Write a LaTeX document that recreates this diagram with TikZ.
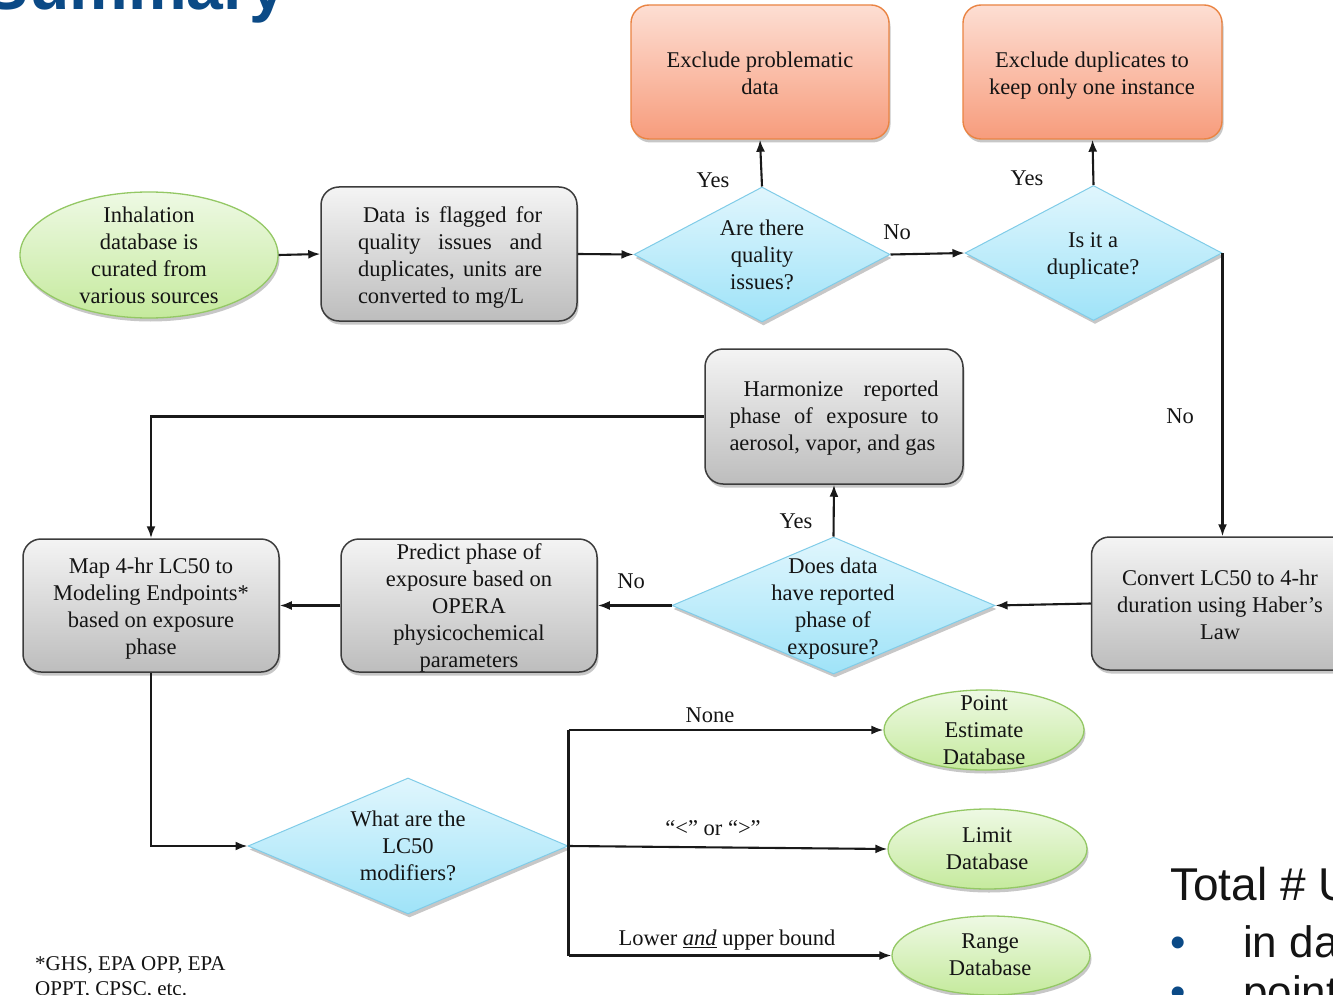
\documentclass[tikz,border=0pt]{standalone}
\usepackage{fontspec}
\setmainfont{Liberation Serif}
\newfontfamily\sansfont{Liberation Sans}
\usetikzlibrary{shapes.geometric,arrows.meta,shadows}

\definecolor{gtop}{HTML}{F4F4F4}
\definecolor{gbot}{HTML}{BDBDBD}
\definecolor{gborder}{HTML}{3C3C3C}
\definecolor{otop}{HTML}{FDDED3}
\definecolor{obot}{HTML}{F79C7C}
\definecolor{oborder}{HTML}{EA8443}
\definecolor{ltop}{HTML}{EEF9E4}
\definecolor{lbot}{HTML}{C5EA9D}
\definecolor{lborder}{HTML}{94C865}
\definecolor{ctop}{HTML}{E0F6FD}
\definecolor{cbot}{HTML}{9FE3F8}
\definecolor{cborder}{HTML}{80CCE8}
\definecolor{titleblue}{HTML}{0B4A86}
\definecolor{ink}{HTML}{141414}

\tikzset{
  shade/.style={drop shadow={shadow xshift=1.5pt, shadow yshift=-3.5pt, fill=black, opacity=0.22}},
  graybox/.style={shade, draw=gborder, line width=1.5pt, rounded corners=18pt,
    top color=gtop, bottom color=gbot, inner sep=0pt},
  orangebox/.style={shade, draw=oborder, line width=1.4pt, rounded corners=18pt,
    top color=otop, bottom color=obot, inner sep=0pt},
  greenoval/.style={shade, ellipse, draw=lborder, line width=1.3pt,
    top color=ltop, bottom color=lbot, inner sep=0pt},
  bluediamond/.style={shade, diamond, draw=cborder, line width=1pt,
    top color=ctop, bottom color=cbot, inner sep=0pt},
  txt/.style={align=center, inner sep=0pt, text=ink, yshift=-4pt,
    font=\fontsize{22.5}{27}\selectfont,
    execute at begin node=\strut, execute at end node=\strut},
  lbl/.style={txt},
  conn/.style={line width=2.1pt, draw=black!90},
  arr/.style={conn, -{Latex[length=12pt,width=9pt]}},
}

\begin{document}
\begin{tikzpicture}[x=1pt, y=-1pt]
\useasboundingbox (0,0) rectangle (1333,995);
\clip (0,0) rectangle (1333,995);
\fill[white] (0,0) rectangle (1333,995);

% heading and side text
\node[anchor=base east, inner sep=0pt, text=titleblue,
  font=\sansfont\bfseries\fontsize{66}{66}\selectfont] (title) at (286,10) {Summary};
\node[anchor=base west, inner sep=0pt, text=ink,
  font=\sansfont\fontsize{46}{46}\selectfont] (total) at (1170,900) {Total \# U};
\node[anchor=base west, inner sep=0pt, text=titleblue,
  font=\sansfont\fontsize{44}{44}\selectfont] (bul1) at (1170,957) {•};
\node[anchor=base west, inner sep=0pt, text=ink,
  font=\sansfont\fontsize{44}{44}\selectfont] (item1) at (1243,957) {in da};
\node[anchor=base west, inner sep=0pt, text=titleblue,
  font=\sansfont\fontsize{44}{44}\selectfont] (bul2) at (1170,1007) {•};
\node[anchor=base west, inner sep=0pt, text=ink,
  font=\sansfont\fontsize{44}{44}\selectfont] (item2) at (1243,1007) {point};

% shapes
\node[greenoval, minimum width=258pt, minimum height=126pt] (src) at (149,255) {};
\node[graybox, minimum width=256pt, minimum height=134pt] (data) at (449,254) {};
\node[bluediamond, minimum width=256pt, minimum height=135pt] (d1) at (762,254.5) {};
\node[orangebox, minimum width=258pt, minimum height=134pt] (ex1) at (760,72) {};
\node[bluediamond, minimum width=257pt, minimum height=135pt] (d2) at (1093.5,253) {};
\node[orangebox, minimum width=259pt, minimum height=134pt] (ex2) at (1092.5,72) {};
\node[graybox, minimum width=260pt, minimum height=133pt] (conv) at (1221.5,603.5) {};
\node[bluediamond, minimum width=323pt, minimum height=137pt] (d3) at (833.5,605.5) {};
\node[graybox, minimum width=258pt, minimum height=135pt] (harm) at (834,416.5) {};
\node[graybox, minimum width=256pt, minimum height=133pt] (pred) at (469,605.5) {};
\node[graybox, minimum width=256pt, minimum height=133pt] (map) at (151,605.5) {};
\node[bluediamond, minimum width=320pt, minimum height=136pt] (d4) at (408,846) {};
\node[greenoval, minimum width=200pt, minimum height=80pt] (pt) at (984,730) {};
\node[greenoval, minimum width=199pt, minimum height=80pt] (lim) at (987.5,849) {};
\node[greenoval, minimum width=198pt, minimum height=79pt] (rng) at (991,955.5) {};

% texts inside the shapes
\node[txt] (srct) at (149,255.5) {Inhalation\\database is\\curated from\\various sources};
\node[txt, align=left] (datat) at (450,255) {\hspace*{5pt}\makebox[179pt][s]{Data is flagged for}\\
  \makebox[184pt][s]{quality issues and}\\\makebox[184pt][s]{duplicates, units are}\\converted to mg/L};
\node[txt] (d1t) at (762,254.5) {Are there\\quality\\issues?};
\node[txt] (ex1t) at (760,73.5) {Exclude problematic\\data};
\node[txt] (d2t) at (1093,254) {Is it a\\duplicate?};
\node[txt] (ex2t) at (1092,73.5) {Exclude duplicates to\\keep only one instance};
\node[txt] (convt) at (1220,604.5) {Convert LC50 to 4-hr\\duration using Haber’s\\Law};
\node[txt] (d3t) at (833,606.5) {Does data\\have reported\\phase of\\exposure?};
\node[txt, align=left] (harmt) at (834,415.5) {\hspace*{14pt}\makebox[195pt][s]{Harmonize reported}\\
  \makebox[209pt][s]{phase of exposure to}\\aerosol, vapor, and gas};
\node[txt] (predt) at (469,606) {Predict phase of\\exposure based on\\OPERA\\physicochemical\\parameters};
\node[txt] (mapt) at (151,606.5) {Map 4-hr LC50 to\\Modeling Endpoints*\\based on exposure\\phase};
\node[txt] (d4t) at (408,845.5) {What are the\\LC50\\modifiers?};
\node[txt] (ptt) at (984,730.5) {Point\\Estimate\\Database};
\node[txt] (limt) at (987,849) {Limit\\Database};
\node[txt] (rngt) at (990,955) {Range\\Database};

% footnote
\node[txt, align=left, anchor=west, font=\fontsize{21}{25.5}\selectfont] (foot) at (35,976)
  {*GHS, EPA OPP, EPA\\OPPT, CPSC, etc.};

% connectors
\draw[arr] (src.east) -- (data.west);
\draw[arr] (data.east) -- (d1.west);
\draw[arr] (d1.north) -- (ex1.south);
\draw[arr] (d1.east) -- (d2.west);
\draw[arr] (d2.north) -- (ex2.south);
\draw[arr] (d2.east) -- (d2.east |- conv.north);
\draw[arr] (conv.west) -- (d3.east);
\draw[arr] (d3.north) -- (harm.south);
\draw[arr] (d3.west) -- (pred.east);
\draw[arr] (pred.west) -- (map.east);
\draw[arr] (harm.west) -| (map.north);
\draw[arr] (map.south) |- (d4.west);

\coordinate (brtop) at (d4.east |- pt.west);
\coordinate (brbot) at (d4.east |- rng.west);
\draw[conn] (brtop) -- (brbot);
\draw[arr] (brtop) -- (pt.west);
\draw[arr] (d4.east) -- (lim.west);
\draw[arr] (brbot) -- (rng.west);

% branch labels
\node[lbl] (yes1) at (713,178) {Yes};
\node[lbl] (no1) at (897,230) {No};
\node[lbl] (yes2) at (1027,176) {Yes};
\node[lbl] (no2) at (1180,414) {No};
\node[lbl] (yes3) at (796,519) {Yes};
\node[lbl] (no3) at (631,579) {No};
\node[lbl] (none) at (710,713) {None};
\node[lbl] (ltgt) at (713,826) {“<” or “>”};
\node[lbl] (bound) at (727,936) {Lower \underline{\textit{and}} upper bound};
\end{tikzpicture}
\end{document}
